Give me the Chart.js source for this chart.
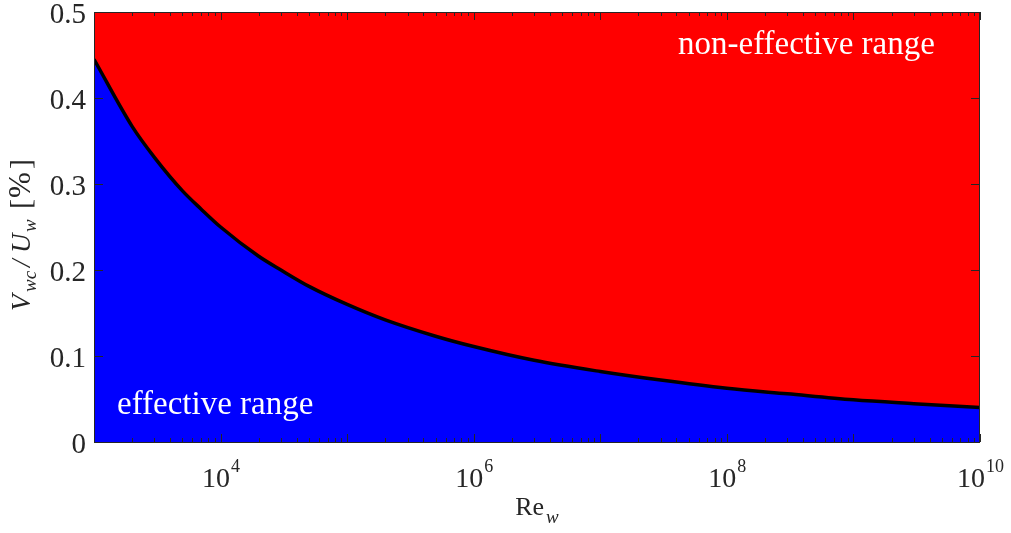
<!DOCTYPE html>
<html>
<head>
<meta charset="utf-8">
<script src="https://cdn.jsdelivr.net/npm/chart.js@4/dist/chart.umd.min.js"></script>
<style>
  html, body { margin: 0; padding: 0; background: #fff; }
  #wrap { width: 1011px; height: 533px; }
</style>
</head>
<body>
<div id="wrap"><canvas id="myChart" width="1011" height="533"></canvas></div>
<script>
// Reynolds number samples and the limit curve V_wc/U_w
const reValues = [1e3, 2e3, 3e3, 5e3, 7e3, 1e4, 2e4, 3e4, 5e4, 1e5, 2e5, 5e5,
                  1e6, 3e6, 1e7, 3e7, 1e8, 3e8, 1e9, 3e9, 1e10];
const limitValues = [0.445, 0.367, 0.331, 0.292, 0.271, 0.250, 0.216, 0.200, 0.181, 0.160, 0.142, 0.123,
                     0.111, 0.095, 0.082, 0.072, 0.0625, 0.056, 0.049, 0.0445, 0.040];
const xTickExps = [4, 6, 8, 10];
const yTicks = [0, 0.1, 0.2, 0.3, 0.4, 0.5];
const regionLabels = ['non-effective range', 'effective range'];

const points = reValues.map((re, i) => ({ x: re, y: limitValues[i] }));
const SERIF = '"Liberation Serif", "Times New Roman", serif';
const AXIS = '#262626';

// ticks, tick labels, axis titles and region texts (MATLAB look)
const decorate = {
    id: 'decorate',
    afterDatasetsDraw(chart) {
        const ctx = chart.ctx;
        const a = chart.chartArea;
        const xs = chart.scales.x;
        const ys = chart.scales.y;
        ctx.save();

        // region labels
        ctx.fillStyle = '#fff';
        ctx.font = '33px ' + SERIF;
        ctx.textAlign = 'left';
        ctx.textBaseline = 'alphabetic';
        ctx.fillText(regionLabels[0], a.left + 584, a.top + 42);
        ctx.fillText(regionLabels[1], a.left + 23, a.bottom - 28);

        // box
        ctx.strokeStyle = AXIS;
        ctx.lineWidth = 1;
        ctx.strokeRect(Math.round(a.left) + 0.5, Math.round(a.top) + 0.5,
                       Math.round(a.right - a.left) - 1, Math.round(a.bottom - a.top));

        // x ticks, major every decade, minor at 2..9
        ctx.beginPath();
        for (let e = 3; e <= 10; e++) {
            for (let m = 1; m <= 9; m++) {
                const v = m * Math.pow(10, e);
                if (v > 1e10) break;
                const px = Math.round(xs.getPixelForValue(v)) + 0.5;
                const len = m === 1 ? 8 : 4;
                ctx.moveTo(px, a.bottom); ctx.lineTo(px, a.bottom - len);
                ctx.moveTo(px, a.top); ctx.lineTo(px, a.top + len);
            }
        }
        // y ticks
        yTicks.forEach(v => {
            const py = Math.round(ys.getPixelForValue(v)) + 0.5;
            ctx.moveTo(a.left, py); ctx.lineTo(a.left + 9, py);
            ctx.moveTo(a.right, py); ctx.lineTo(a.right - 9, py);
        });
        ctx.stroke();

        // y tick labels
        ctx.fillStyle = AXIS;
        ctx.font = '29px ' + SERIF;
        ctx.textAlign = 'right';
        yTicks.forEach(v => {
            const py = ys.getPixelForValue(v);
            ctx.fillText(v === 0 ? '0' : v.toFixed(1), a.left - 8, py + 11);
        });

        // x tick labels 10^n
        xTickExps.forEach(n => {
            const px = xs.getPixelForValue(Math.pow(10, n));
            ctx.font = '28px ' + SERIF;
            const wb = ctx.measureText('10').width;
            ctx.font = '18px ' + SERIF;
            const we = ctx.measureText(String(n)).width;
            const x0 = px - (wb + we) / 2;
            ctx.textAlign = 'left';
            ctx.font = '28px ' + SERIF;
            ctx.fillText('10', x0, a.bottom + 44.5);
            ctx.font = '18px ' + SERIF;
            ctx.fillText(String(n), x0 + wb + 1, a.bottom + 29.5);
        });

        // x title: Re_w
        const cx = (a.left + a.right) / 2;
        ctx.font = '26px ' + SERIF;
        const wRe = ctx.measureText('Re').width;
        ctx.font = 'italic 19px ' + SERIF;
        const wW = ctx.measureText('w').width;
        let x0 = cx - (wRe + wW + 2) / 2;
        ctx.font = '26px ' + SERIF;
        ctx.fillText('Re', x0, a.bottom + 72.5);
        ctx.font = 'italic 19px ' + SERIF;
        ctx.fillText('w', x0 + wRe + 2, a.bottom + 80.5);

        // y title: V_wc / U_w [%], laid out bottom to top
        const parts = [
            { t: 'V', f: 'italic 27px', at: 0, dy: 0 },
            { t: 'wc', f: 'italic 19px', at: 19, dy: 6 },
            { t: '/', f: 'italic 27px', at: 44, dy: 0 },
            { t: 'U', f: 'italic 27px', at: 58, dy: 0 },
            { t: 'w', f: 'italic 19px', at: 79, dy: 6 },
            { t: '[', f: '30px', at: 102, dy: 0 },
            { t: '%', f: '31px', at: 113, dy: 0 },
            { t: ']', f: '30px', at: 142, dy: 0 }
        ];
        ctx.translate(29.5, a.bottom - 131);
        ctx.rotate(-Math.PI / 2);
        parts.forEach(p => {
            ctx.font = p.f + ' ' + SERIF;
            ctx.fillText(p.t, p.at, p.dy);
        });
        ctx.restore();
    }
};

const ctx = document.getElementById('myChart').getContext('2d');
const myChart = new Chart(ctx, {
    type: 'line',
    data: {
        datasets: [{
            label: 'effective',
            data: points,
            fill: 'origin',
            backgroundColor: '#0000ff',
            borderColor: '#000000',
            borderWidth: 3.5,
            pointRadius: 0,
            cubicInterpolationMode: 'monotone'
        }, {
            label: 'non-effective',
            data: points,
            fill: 'end',
            backgroundColor: '#ff0000',
            borderWidth: 0,
            pointRadius: 0,
            cubicInterpolationMode: 'monotone'
        }]
    },
    options: {
        responsive: false,
        animation: false,
        layout: { padding: { left: 94, top: 12, right: 31, bottom: 91 } },
        plugins: { legend: { display: false }, tooltip: { enabled: false } },
        scales: {
            x: { type: 'logarithmic', min: 1e3, max: 1e10, display: false },
            y: { type: 'linear', min: 0, max: 0.5, display: false }
        }
    },
    plugins: [decorate]
});
</script>
</body>
</html>
